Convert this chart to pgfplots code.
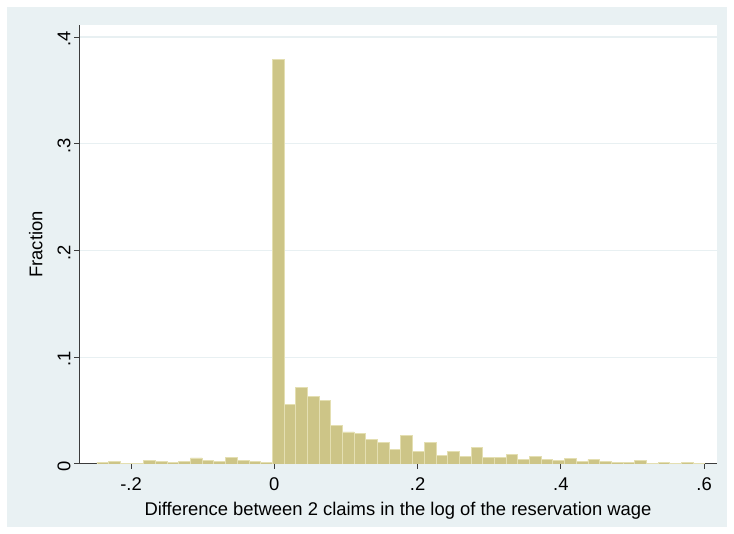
\documentclass[border=0pt]{standalone}
\usepackage{pgfplots}
\pgfplotsset{compat=1.18}
\usepackage{pgfplotstable}
\usepackage{fontspec}
\setmainfont{Liberation Sans}
\definecolor{bgblue}{RGB}{233,241,243}
\definecolor{gridc}{RGB}{232,240,242}
\definecolor{barfill}{RGB}{205,197,135}
\definecolor{barline}{RGB}{228,223,178}
\definecolor{axc}{RGB}{60,60,60}
\pgfplotstableread{
x y
-0.2476 0.0015
-0.2313 0.0027
-0.2150 0.0008
-0.1986 0.0008
-0.1823 0.0036
-0.1660 0.0020
-0.1497 0.0018
-0.1334 0.0027
-0.1170 0.0057
-0.1007 0.0032
-0.0844 0.0020
-0.0681 0.0064
-0.0518 0.0037
-0.0354 0.0027
-0.0191 0.0018
-0.0028 0.3790
0.0135 0.0555
0.0298 0.0713
0.0462 0.0637
0.0625 0.0599
0.0788 0.0360
0.0951 0.0300
0.1114 0.0290
0.1278 0.0228
0.1441 0.0205
0.1604 0.0140
0.1767 0.0271
0.1930 0.0117
0.2094 0.0205
0.2257 0.0076
0.2420 0.0117
0.2583 0.0073
0.2746 0.0152
0.2910 0.0058
0.3073 0.0063
0.3236 0.0092
0.3399 0.0042
0.3562 0.0072
0.3726 0.0043
0.3889 0.0030
0.4052 0.0050
0.4215 0.0027
0.4378 0.0040
0.4542 0.0023
0.4705 0.0014
0.4868 0.0018
0.5031 0.0032
0.5194 0.0004
0.5358 0.0012
0.5521 0.0007
0.5684 0.0012
0.5847 0.0007
0.6010 0.0007
}\histdata
\begin{document}
\begin{tikzpicture}[x=1pt,y=1pt]
\fill[white] (0,0) rectangle (734,534);
\fill[bgblue] (7,7) rectangle (727,527);
\begin{axis}[
  at={(79pt,70pt)}, anchor=south west,
  width=638pt, height=439pt, scale only axis,
  xmin=-0.2726, xmax=0.618,
  ymin=0, ymax=0.4113,
  axis background/.style={fill=white},
  axis x line*=bottom, axis y line*=left,
  axis line style={-, draw=axc, line width=1pt},
  tick style={draw=axc, line width=1pt},
  tick align=outside, major tick length=5pt,
  xtick={-0.2,0,0.2,0.4,0.6},
  xticklabels={-.2,0,.2,.4,.6},
  ytick={0,0.1,0.2,0.3,0.4},
  yticklabels={0,.1,.2,.3,.4},
  xticklabel style={yshift=-5pt},
  yticklabel style={rotate=90, anchor=south, xshift=-2pt},
  ymajorgrids, grid style={draw=gridc, line width=1.2pt},
  ticklabel style={font=\fontsize{18.4}{21}\selectfont},
  label style={font=\fontsize{18.4}{21}\selectfont},
  xlabel={Difference between 2 claims in the log of the reservation wage},
  ylabel={Fraction},
  xlabel style={yshift=-5pt},
  ylabel style={yshift=8pt},
]
\addplot[ybar interval, fill=barfill, draw=barline, line width=0.8pt] table[x=x,y=y] {\histdata};
\end{axis}
\end{tikzpicture}
\end{document}
